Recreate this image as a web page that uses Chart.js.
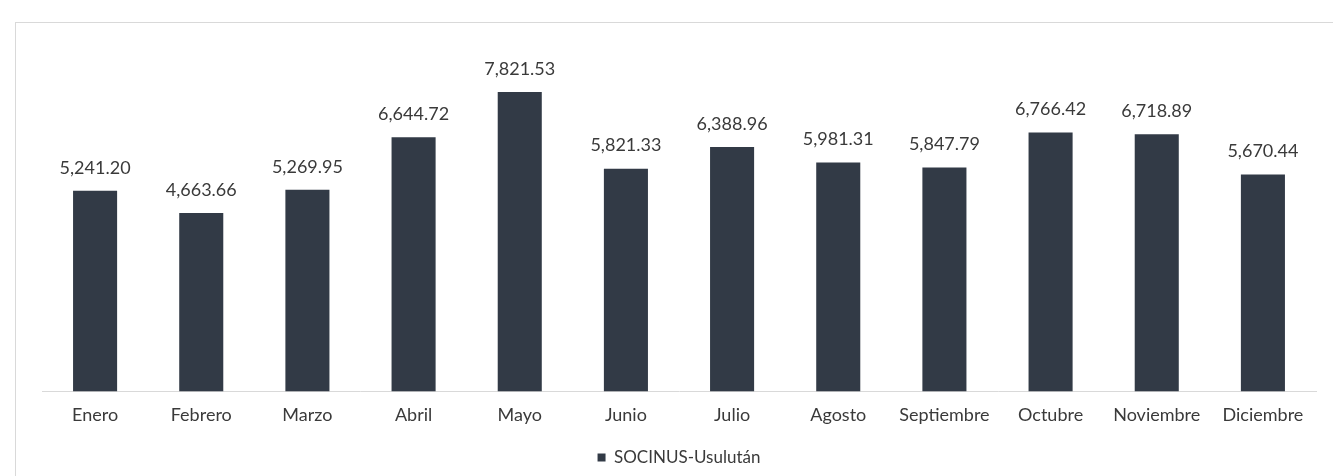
<!DOCTYPE html>
<html>
<head>
<meta charset="utf-8">
<script src="https://cdn.jsdelivr.net/npm/chart.js@4"></script>
<style>
  body{margin:0;background:#fff;}
  #wrap{position:relative;width:1333px;height:476px;overflow:hidden;}
  #frame{position:absolute;left:15px;top:22px;width:1340px;height:480px;border:1px solid #d9d9d9;}
  canvas{position:absolute;left:0;top:0;}
</style>
</head>
<body>
<div id="wrap">
  <div id="frame"></div>
  <canvas id="chart" width="1333" height="476"></canvas>
</div>
<script>
const months = ["Enero","Febrero","Marzo","Abril","Mayo","Junio","Julio","Agosto","Septiembre","Octubre","Noviembre","Diciembre"];
const socinus = [5241.20,4663.66,5269.95,6644.72,7821.53,5821.33,6388.96,5981.31,5847.79,6766.42,6718.89,5670.44];
const seriesName = "SOCINUS-Usulután";

const fontFam = "Lato, 'Open Sans', sans-serif";

// value labels over each bar
const valueLabels = {
  id:"valueLabels",
  afterDatasetsDraw(chart){
    const c = chart.ctx;
    const meta = chart.getDatasetMeta(0);
    c.save();
    c.font = "18px " + fontFam;
    c.fillStyle = "#3a3a3a";
    c.textAlign = "center";
    c.textBaseline = "bottom";
    meta.data.forEach((bar,i)=>{
      const v = socinus[i].toLocaleString("en-US",{minimumFractionDigits:2,maximumFractionDigits:2});
      c.fillText(v, bar.x, bar.y - 14);
    });
    c.restore();
  }
};

const chart = new Chart(document.getElementById("chart"),{
  type:"bar",
  data:{labels:months,datasets:[{
    label:seriesName,
    data:socinus,
    backgroundColor:"#323a46",
    categoryPercentage:1,
    barPercentage:0.415
  }]},
  options:{
    responsive:false,
    animation:false,
    layout:{padding:{left:42,right:17,top:47,bottom:0}},
    plugins:{
      legend:{
        position:"bottom",
        labels:{color:"#3a3a3a",font:{family:fontFam,size:17},boxWidth:8,boxHeight:8,padding:10}
      },
      tooltip:{enabled:false}
    },
    scales:{
      x:{
        grid:{display:false,drawTicks:false},
        border:{color:"#d9d9d9",width:1},
        ticks:{color:"#3a3a3a",font:{family:fontFam,size:18},padding:13}
      },
      y:{display:false,min:0,max:9000}
    }
  },
  plugins:[valueLabels]
});
</script>
</body>
</html>
